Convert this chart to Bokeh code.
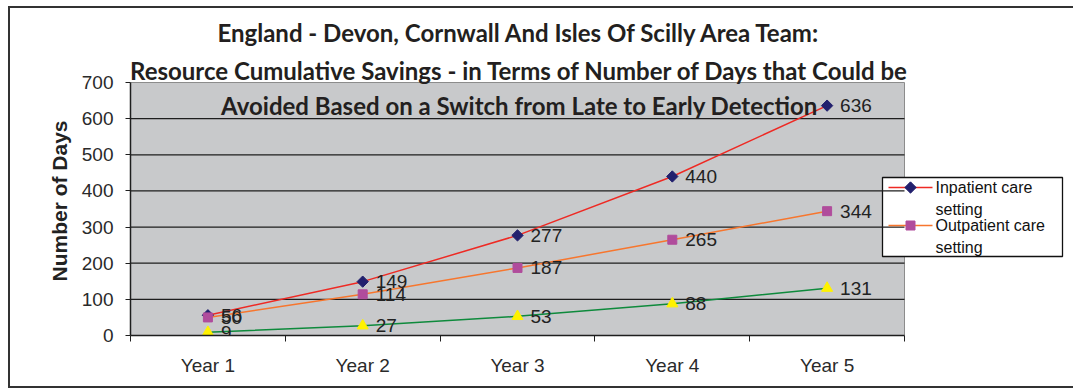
import math
from bokeh.plotting import figure
from bokeh.models import Range1d, FixedTicker, Title, Label
from bokeh.core.properties import value
from bokeh.embed import file_html
from bokeh.resources import INLINE

# ---------------- data ----------------
years = ["Year 1", "Year 2", "Year 3", "Year 4", "Year 5"]
inpatient = [56, 149, 277, 440, 636]
outpatient = [50, 114, 187, 265, 344]
daycase = [9, 27, 53, 88, 131]
series_names = ["Inpatient care setting", "Outpatient care setting", "Day case setting"]
y_ticks = [0, 100, 200, 300, 400, 500, 600, 700]
title_lines = [
    "England - Devon, Cornwall And Isles Of Scilly Area Team:",
    "Resource Cumulative Savings - in Terms of Number of Days that Could be",
    "Avoided Based on a Switch from Late to Early Detection",
]
y_label = "Number of Days"

# ---------------- layout ----------------
FRAME_L, FRAME_T, FRAME_B = 130, 8, 335   # page pixels
CANVAS_L = 10
FRAME_W = 943
FRAME_H = FRAME_B - FRAME_T
LEFT = FRAME_L - CANVAS_L
BOTTOM = 51
PX_X = 154.8            # pixels per category
PX_Y = 253.0 / 700.0    # pixels per unit


def X(px):
    return (px - FRAME_L) / PX_X


def Y(py):
    return (FRAME_B - py) / PX_Y


RED, NAVY = "#EE2A24", "#22206E"
ORANGE, MAGENTA = "#F7762E", "#B04C9C"
GREEN, YELLOW = "#0E8A3C", "#FFF200"
GRAY_BG = "#C8C9CB"
DARK = "#1E1E1E"
TXT = "#222222"

p = figure(frame_width=FRAME_W, frame_height=FRAME_H,
           x_range=Range1d(0, FRAME_W / PX_X), y_range=Range1d(0, FRAME_H / PX_Y),
           output_backend="svg", toolbar_location=None,
           min_border_left=LEFT, min_border_right=0, min_border_top=0,
           min_border_bottom=BOTTOM)
p.styles = {"margin-left": "8px", "margin-top": "6px",
            "border-left": "2px solid #333", "border-top": "2px solid #333",
            "border-bottom": "2px solid #333"}
p.outline_line_color = None
p.background_fill_color = "white"
p.border_fill_color = "white"
p.xgrid.visible = False
p.ygrid.visible = False

n = len(years)
xs = [i + 0.5 for i in range(n)]
ytop = y_ticks[-1]
DIAMOND = dict(marker="square", angle=math.pi / 4, size=8)

# plot area
p.quad(left=0, right=n, bottom=0, top=ytop, fill_color=GRAY_BG,
       line_color="#8C8C8C", line_width=1)

# legend box (under gridlines, as in the reference)
p.quad(left=X(882), right=X(1062), top=Y(177), bottom=Y(256),
       fill_color="white", line_color="#111111", line_width=1.3)

# gridlines
for t in y_ticks[1:-1]:
    p.line([0, n], [t, t], line_color=DARK, line_width=1.3)

# series
p.line(xs, inpatient, line_color=RED, line_width=1.5)
p.scatter(xs, inpatient, fill_color=NAVY, line_color=NAVY, **DIAMOND)
p.line(xs, outpatient, line_color=ORANGE, line_width=1.5)
p.scatter(xs, outpatient, marker="square", size=9, fill_color=MAGENTA, line_color=MAGENTA)
p.line(xs, daycase, line_color=GREEN, line_width=1.5)
p.scatter(xs, daycase, marker="triangle", size=11, fill_color=YELLOW, line_color=YELLOW)

for vals in (inpatient, outpatient, daycase):
    p.text(xs, vals, text=[str(v) for v in vals], x_offset=13,
           text_baseline="middle", text_align="left",
           text_font=value("Liberation Sans"), text_font_size="19px", text_color=TXT)

# legend entries (manual, with wrapped labels)
leg = [(series_names[0], RED, NAVY, DIAMOND, 187),
       (series_names[1], ORANGE, MAGENTA, dict(marker="square", size=9), 225)]
for name, lc, mc, mk, py in leg:
    first, second = name.rsplit(" ", 1)
    p.line([X(888), X(932)], [Y(py), Y(py)], line_color=lc, line_width=1.5)
    p.scatter([X(910)], [Y(py)], fill_color=mc, line_color=mc, **mk)
    p.text([X(935), X(935)], [Y(py), Y(py + 22)], text=[first, second],
           text_baseline="middle", text_align="left",
           text_font=value("Liberation Sans"), text_font_size="16px", text_color="#111111")

# title lines
for line, py in zip(title_lines, [32, 70, 105]):
    p.add_layout(Label(x=X(519), y=Y(py), text=line, text_align="center",
                       text_baseline="middle", text_font="Lato",
                       text_font_style="bold", text_font_size="24px",
                       text_color="#231F20"))

# axes
p.yaxis.ticker = FixedTicker(ticks=y_ticks, minor_ticks=[])
p.yaxis.bounds = (0, ytop)
p.yaxis.axis_line_color = DARK
p.yaxis.axis_line_width = 1.5
p.yaxis.major_tick_out = 5
p.yaxis.major_tick_in = 0
p.yaxis.major_tick_line_color = DARK
p.yaxis.minor_tick_line_color = None
p.yaxis.major_label_text_font = "Liberation Sans"
p.yaxis.major_label_text_font_size = "19px"
p.yaxis.major_label_text_color = "#2A2A2A"
p.yaxis.major_label_standoff = 12

p.xaxis.ticker = FixedTicker(ticks=xs, minor_ticks=list(range(n + 1)))
p.xaxis.bounds = (0, n)
p.xaxis.major_label_overrides = {x: y for x, y in zip(xs, years)}
p.xaxis.axis_line_color = DARK
p.xaxis.axis_line_width = 1.5
p.xaxis.major_tick_line_color = None
p.xaxis.major_tick_out = 0
p.xaxis.major_tick_in = 0
p.xaxis.minor_tick_out = 6
p.xaxis.minor_tick_in = 0
p.xaxis.minor_tick_line_color = DARK
p.xaxis.major_label_text_font = "Liberation Sans"
p.xaxis.major_label_text_font_size = "19px"
p.xaxis.major_label_text_color = "#2A2A2A"
p.xaxis.major_label_standoff = 13

p.add_layout(Title(text=y_label, align="left", offset=54, standoff=16,
                   text_font="Liberation Sans", text_font_size="21px",
                   text_font_style="bold", text_color=TXT), "left")

open("out.html", "w").write(file_html(p, INLINE))
